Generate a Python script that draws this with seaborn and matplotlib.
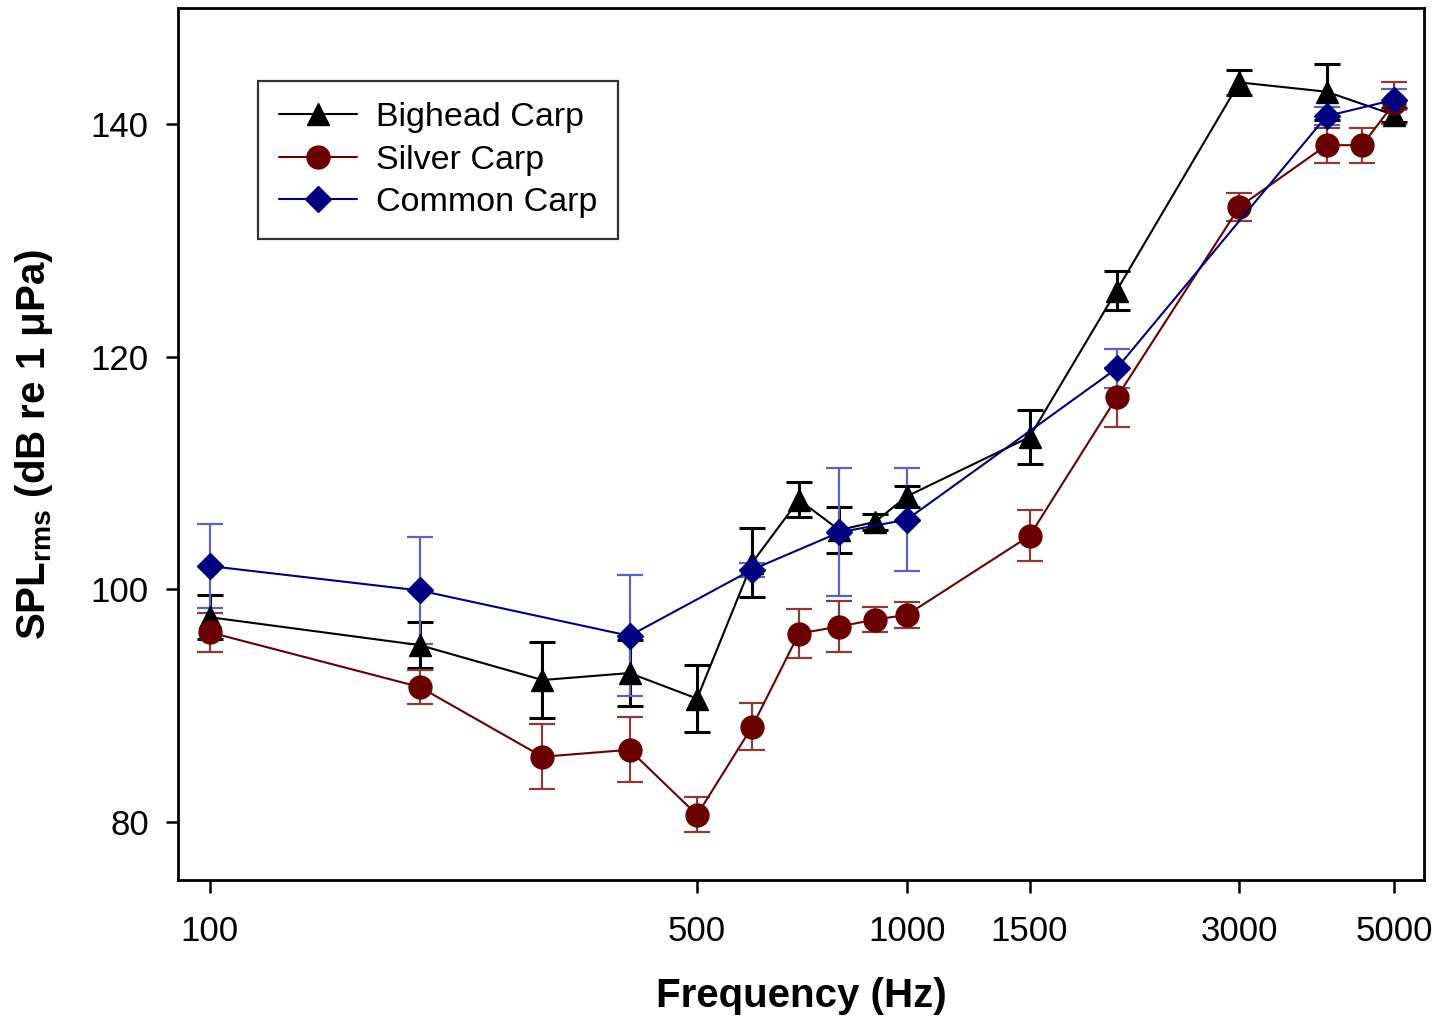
import matplotlib
matplotlib.use("Agg")
import matplotlib.pyplot as plt
import seaborn as sns
import pandas as pd

# ---- data ----
species = ["Bighead Carp", "Silver Carp", "Common Carp"]

freq_bighead = [100, 200, 300, 400, 500, 600, 700, 800, 900, 1000, 1500, 2000, 3000, 4000, 5000]
spl_bighead = [97.6, 95.2, 92.2, 92.8, 90.6, 102.3, 107.7, 105.1, 105.8, 108.0, 113.1, 125.7, 143.6, 142.8, 140.8]
err_bighead = [1.9, 2.0, 3.3, 2.8, 2.9, 3.0, 1.5, 2.0, 0.7, 0.9, 2.3, 1.7, 1.1, 2.4, 0.6]

freq_silver = [100, 200, 300, 400, 500, 600, 700, 800, 900, 1000, 1500, 2000, 3000, 4000, 4500, 5000]
spl_silver = [96.3, 91.6, 85.6, 86.2, 80.6, 88.2, 96.2, 96.8, 97.4, 97.8, 104.6, 116.5, 132.9, 138.2, 138.2, 141.8]
err_silver = [1.7, 1.5, 2.8, 2.8, 1.5, 2.0, 2.1, 2.2, 1.1, 1.1, 2.2, 2.5, 1.2, 1.5, 1.5, 1.8]

freq_common = [100, 200, 400, 600, 800, 1000, 2000, 4000, 5000]
spl_common = [102.0, 99.9, 96.0, 101.7, 104.9, 106.0, 119.0, 140.7, 142.1]
err_common = [3.6, 4.6, 5.2, 0.6, 5.5, 4.4, 1.7, 0.8, 0.9]

x_ticks = [100, 500, 1000, 1500, 3000, 5000]
y_ticks = [80, 100, 120, 140]

# ---- style ----
sns.set_style("ticks")
plt.rcParams["font.family"] = ["Liberation Sans", "DejaVu Sans"]
plt.rcParams["mathtext.fontset"] = "custom"
plt.rcParams["mathtext.rm"] = "Liberation Sans"
plt.rcParams["mathtext.it"] = "Liberation Sans:italic"
plt.rcParams["mathtext.bf"] = "Liberation Sans:bold"
for key in ["text.color", "axes.labelcolor", "xtick.color", "ytick.color", "axes.edgecolor"]:
    plt.rcParams[key] = "black"

fig = plt.figure(figsize=(14.52, 10.18), dpi=100)
ax = fig.add_axes([178 / 1452, 1 - 880 / 1018, (1424 - 178) / 1452, (880 - 8) / 1018])

series = [
    (freq_bighead, spl_bighead, err_bighead, "#000000", "#000000", "^", 16.5, 2.2),
    (freq_silver, spl_silver, err_silver, "#6B0000", "#8B3A3A", "o", 16.5, 1.6),
    (freq_common, spl_common, err_common, "#000080", "#6060C0", "D", 13.5, 1.6),
]

for name, (fx, fy, fe, col, ecol, mk, ms, elw) in zip(species, series):
    ax.errorbar(fx, fy, yerr=fe, fmt="none", ecolor=ecol, elinewidth=elw,
                capsize=9.5, capthick=elw, zorder=1)
    df = pd.DataFrame({"Frequency": fx, "SPL": fy})
    sns.lineplot(data=df, x="Frequency", y="SPL", ax=ax, color=col, marker=mk,
                 markersize=ms, markeredgecolor=col, markerfacecolor=col,
                 markeredgewidth=1, linewidth=1.5, errorbar=None, label=name,
                 zorder=2)

ax.set_xscale("log")
ax.set_xlim(90, 5520)
ax.set_ylim(75, 150)
ax.set_xticks(x_ticks)
ax.set_xticklabels([str(t) for t in x_ticks])
ax.xaxis.set_minor_locator(matplotlib.ticker.NullLocator())
ax.set_yticks(y_ticks)

for side in ["top", "right", "bottom", "left"]:
    ax.spines[side].set_visible(True)
    ax.spines[side].set_linewidth(2)
    ax.spines[side].set_color("black")

ax.tick_params(axis="both", direction="out", length=9, width=1.8, color="black",
               labelcolor="black", labelsize=25, pad=12)
ax.tick_params(axis="x", pad=16)

ax.set_xlabel("Frequency (Hz)", fontsize=29, fontweight="bold", labelpad=21)
ax.set_ylabel(r"SPL$_{\mathregular{rms}}$ (dB re 1 μPa)", fontsize=29,
              fontweight="bold", labelpad=26)

handles, labels = ax.get_legend_handles_labels()
leg = ax.legend(handles, labels, loc="upper left", bbox_to_anchor=(0.064, 0.916),
                borderaxespad=0, frameon=True, fancybox=False, edgecolor="black",
                fontsize=24.5, handlelength=2.3, handletextpad=0.55,
                labelspacing=0.33, borderpad=0.62)
leg.get_frame().set_linewidth(1.6)
for t in leg.get_texts():
    t.set_color("black")

fig.savefig("out.png", dpi=100, facecolor="white")
